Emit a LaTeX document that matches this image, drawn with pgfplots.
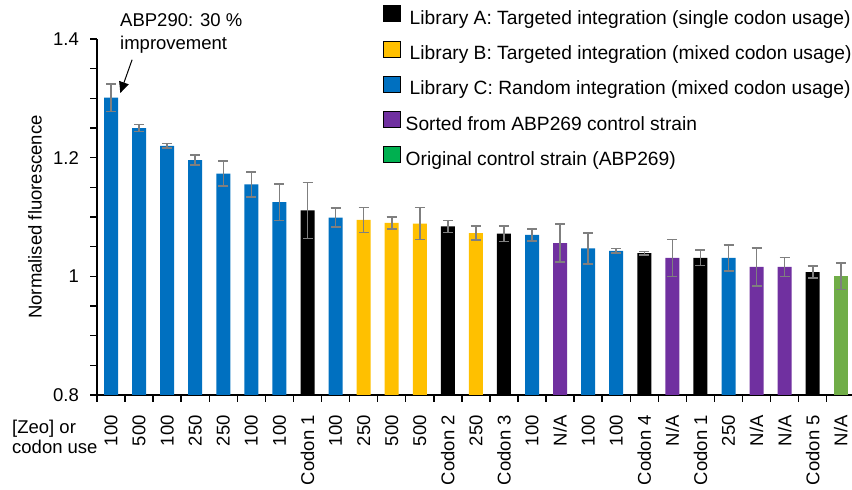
\documentclass[border=0pt]{standalone}
\usepackage{fontspec}
\setmainfont{Liberation Sans}
\usepackage{pgfplots}
\pgfplotsset{compat=1.18}
\usepackage{pgfplotstable}
\usetikzlibrary{arrows.meta}
\definecolor{cblue}{HTML}{0070C0}
\definecolor{cyellow}{HTML}{FFC000}
\definecolor{cpurple}{HTML}{7030A0}
\definecolor{cgreen}{HTML}{70AD47}
\definecolor{clegreen}{HTML}{00B050}
\definecolor{cerr}{HTML}{7F7F7F}
\newcommand\fs{\fontsize{18.5}{20}\selectfont}
\newcommand\lfs{\fontsize{19.2}{21}\selectfont}

\pgfplotstableread{
x y e
1 1.301 0.023
2 1.250 0.006
3 1.220 0.004
4 1.196 0.008
5 1.173 0.021
6 1.155 0.021
7 1.125 0.031
9 1.099 0.016
16 1.070 0.010
18 1.047 0.026
19 1.043 0.004
23 1.031 0.022
}\libC
\pgfplotstableread{
x y e
8 1.111 0.047
13 1.084 0.010
15 1.072 0.013
20 1.039 0.003
22 1.031 0.013
26 1.007 0.010
}\libA
\pgfplotstableread{
x y e
10 1.095 0.021
11 1.090 0.010
12 1.089 0.027
14 1.073 0.012
}\libB
\pgfplotstableread{
x y e
17 1.056 0.032
21 1.031 0.031
24 1.016 0.032
25 1.016 0.016
}\sorted
\pgfplotstableread{
x y e
27 1.000 0.022
}\orig

\pgfplotsset{
  sqlegend/.style={legend image code/.code={\fill[##1] (0pt,-2pt) rectangle (17pt,14pt);}},
  mybar/.style={forget plot, ybar, bar width=14pt, bar shift=0pt, draw=none, fill=#1,
    error bars/.cd, y dir=both, y explicit,
    error bar style={cerr, line width=1.6pt},
    error mark options={rotate=90, mark size=5pt, cerr, line width=1.6pt},
    /pgfplots/.cd},
}

\begin{document}
\begin{tikzpicture}
\begin{axis}[
  at={(97pt,95pt)}, anchor=south west,
  scale only axis, width=755pt, height=356pt,
  xmin=0.5, xmax=27.4, ymin=0.8, ymax=1.4,
  clip=false,
  axis lines*=left,
  axis line style={line width=1.5pt},
  tick align=outside,
  every tick/.style={draw=black, line width=1.5pt},
  major tick length=7pt,
  xtick={0.5,1.5,...,26.5},
  xticklabels={},
  extra x ticks={1,...,27},
  extra x tick labels={100,500,100,250,250,100,100,Codon 1,100,250,500,500,Codon 2,250,Codon 3,100,N/A,100,100,Codon 4,N/A,Codon 1,250,N/A,N/A,Codon 5,N/A},
  extra x tick style={every tick/.style={draw=none}},
  xticklabel style={yshift=-13pt, rotate=90, anchor=east, font=\fs, inner sep=0pt},
  ytick={0.8,0.85,...,1.41},
  yticklabels={0.8,,,,1,,,,1.2,,,,1.4},
  yticklabel style={font=\fs, inner sep=0pt, xshift=-11pt},
  ylabel={Normalised fluorescence},
  every axis y label/.style={at={(axis description cs:-0.082,0.5)}, rotate=90, anchor=center, font=\fs},
  xlabel={{[Zeo] or}\\codon use},
  every axis x label/.style={at={(axis description cs:-0.1126,-0.069)}, anchor=north west, align=left, inner sep=0pt, font=\fs},
  legend style={at={(axis description cs:0.379,1.095)}, anchor=north west, draw=none, fill=none,
    inner sep=0pt, font=\lfs, row sep=12pt,
    nodes={text height=14pt, text depth=4pt, inner ysep=0pt, inner xsep=5pt}},
  legend cell align=left,
]
\addlegendimage{sqlegend, fill=black}
\addlegendentry{\hspace{4pt}Library A: Targeted integration (single codon usage)}
\addlegendimage{sqlegend, fill=cyellow}
\addlegendentry{\hspace{4pt}Library B: Targeted integration (mixed codon usage)}
\addlegendimage{sqlegend, fill=cblue}
\addlegendentry{\hspace{4pt}Library C: Random integration (mixed codon usage)}
\addlegendimage{sqlegend, fill=cpurple}
\addlegendentry{Sorted from ABP269 control strain}
\addlegendimage{sqlegend, fill=clegreen}
\addlegendentry{Original control strain (ABP269)}

\addplot[mybar=cblue] table[x=x, y=y, y error=e] {\libC};
\addplot[mybar=black] table[x=x, y=y, y error=e] {\libA};
\addplot[mybar=cyellow] table[x=x, y=y, y error=e] {\libB};
\addplot[mybar=cpurple] table[x=x, y=y, y error=e] {\sorted};
\addplot[mybar=cgreen] table[x=x, y=y, y error=e] {\orig};

% axis tick marks
\pgfplotsinvokeforeach{0.5,1.5,2.5,3.5,4.5,5.5,6.5,7.5,8.5,9.5,10.5,11.5,12.5,13.5,14.5,15.5,16.5,17.5,18.5,19.5,20.5,21.5,22.5,23.5,24.5,25.5,26.5}{
  \draw[line width=1.5pt] (axis cs:#1,0.8) -- ++(0pt,-6pt);
}
\pgfplotsinvokeforeach{0.8,0.85,0.9,0.95,1,1.05,1.1,1.15,1.2,1.25,1.3,1.35,1.4}{
  \draw[line width=1.5pt] (axis cs:0.5,#1) -- ++(-7pt,0pt);
}

\draw[-{Triangle[length=11pt,width=10pt]}, line width=1pt] (axis cs:1.75,1.365) -- (axis cs:1.33,1.309);
\end{axis}
\node[anchor=base west, inner sep=0pt, font=\fs] at (120pt,463pt) {ABP290: 30 \%};
\node[anchor=base west, inner sep=0pt, font=\fs] at (120pt,440pt) {improvement};
\pgfresetboundingbox
\path[use as bounding box] (0,0) rectangle (852pt,490pt);
\end{tikzpicture}
\end{document}
